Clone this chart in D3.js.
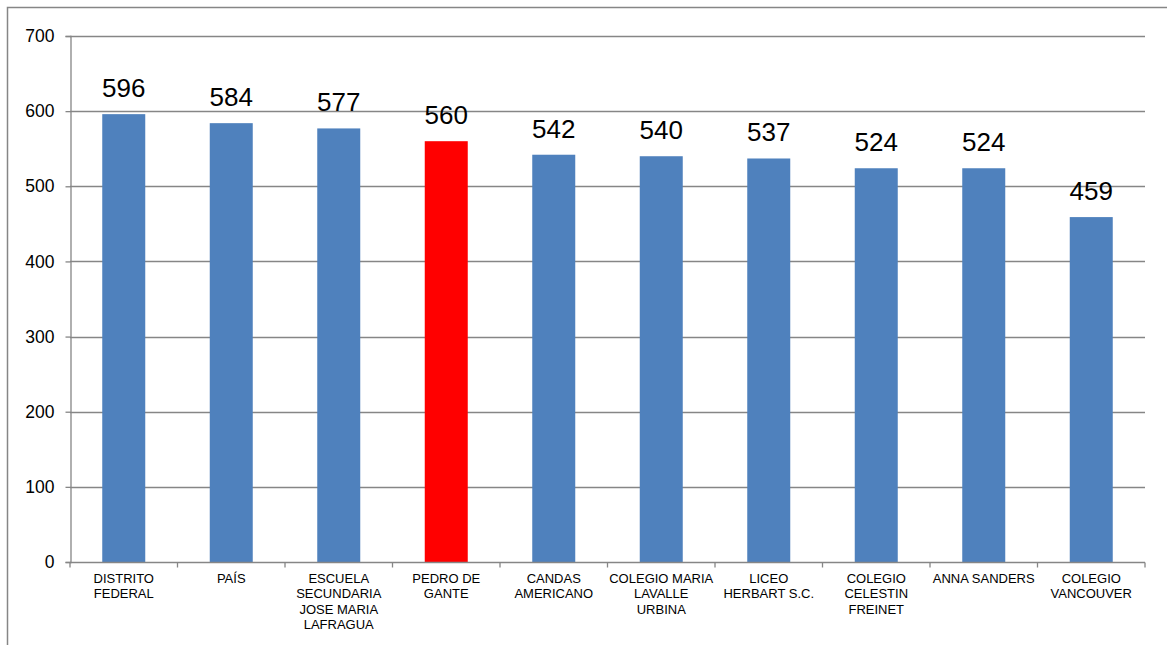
<!DOCTYPE html>
<html>
<head>
<meta charset="utf-8">
<script src="https://cdn.jsdelivr.net/npm/d3@7"></script>
<style>
  html, body { margin: 0; padding: 0; background: #fff; }
  svg { display: block; font-family: "Liberation Sans", Arial, sans-serif; }
</style>
</head>
<body>
<svg id="chart" width="1167" height="645"></svg>
<script>
// Scores per school
const categories = [
  "DISTRITO FEDERAL", "PAÍS", "ESCUELA SECUNDARIA JOSE MARIA LAFRAGUA",
  "PEDRO DE GANTE", "CANDAS AMERICANO", "COLEGIO MARIA LAVALLE URBINA",
  "LICEO HERBART S.C.", "COLEGIO CELESTIN FREINET", "ANNA SANDERS",
  "COLEGIO VANCOUVER"
];
const labelLines = [
  ["DISTRITO", "FEDERAL"],
  ["PAÍS"],
  ["ESCUELA", "SECUNDARIA", "JOSE MARIA", "LAFRAGUA"],
  ["PEDRO DE", "GANTE"],
  ["CANDAS", "AMERICANO"],
  ["COLEGIO MARIA", "LAVALLE", "URBINA"],
  ["LICEO", "HERBART S.C."],
  ["COLEGIO", "CELESTIN", "FREINET"],
  ["ANNA SANDERS"],
  ["COLEGIO", "VANCOUVER"]
];
const values = [596, 584, 577, 560, 542, 540, 537, 524, 524, 459];
const highlighted = ["PEDRO DE GANTE"];
const yTicks = [0, 100, 200, 300, 400, 500, 600, 700];

const svg = d3.select("#chart");

// outer frame
svg.append("rect")
  .attr("x", 7.5).attr("y", 7.5)
  .attr("width", 1170).attr("height", 650)
  .attr("fill", "none").attr("stroke", "#868686").attr("stroke-width", 1.5);

const plotLeft = 70, plotRight = 1145, plotTop = 36, plotBottom = 562;

const x = d3.scaleBand().domain(categories).range([plotLeft, plotRight]).paddingInner(0.6).paddingOuter(0.3);
const xBand = d3.scaleBand().domain(categories).range([plotLeft, plotRight]);
const y = d3.scaleLinear().domain([0, 700]).range([plotBottom, plotTop]);

// horizontal gridlines
svg.append("g").selectAll("line")
  .data(yTicks.filter(t => t > 0))
  .join("line")
  .attr("x1", plotLeft).attr("x2", plotRight)
  .attr("y1", d => Math.round(y(d)) + 0.5).attr("y2", d => Math.round(y(d)) + 0.5)
  .attr("stroke", "#868686").attr("stroke-width", 1.3);

// y axis
const yAxis = svg.append("g")
  .attr("transform", `translate(${plotLeft + 0.5},0)`)
  .call(d3.axisLeft(y).tickValues(yTicks).tickSize(5).tickPadding(11).tickFormat(d3.format("d")));
yAxis.select(".domain").attr("stroke", "#868686").attr("stroke-width", 1.3);
yAxis.selectAll(".tick line").attr("stroke", "#868686").attr("stroke-width", 1.3);
yAxis.selectAll(".tick text")
  .attr("font-size", 17.5).attr("fill", "#000")
  .attr("font-family", "Liberation Sans, Arial, sans-serif");

// bars
svg.append("g").selectAll("rect")
  .data(categories)
  .join("rect")
  .attr("x", d => x(d))
  .attr("width", x.bandwidth())
  .attr("y", (d, i) => y(values[i]))
  .attr("height", (d, i) => y(0) - y(values[i]))
  .attr("fill", d => highlighted.includes(d) ? "#FF0000" : "#4F81BD");

// value labels
svg.append("g").selectAll("text")
  .data(categories)
  .join("text")
  .attr("x", d => x(d) + x.bandwidth() / 2)
  .attr("y", (d, i) => y(values[i]) - 17)
  .attr("text-anchor", "middle")
  .attr("font-size", 26)
  .attr("fill", "#000")
  .text((d, i) => values[i]);

// x axis
const xAxisG = svg.append("g").attr("transform", `translate(0,${plotBottom + 0.5})`);
xAxisG.append("line")
  .attr("x1", plotLeft).attr("x2", plotRight)
  .attr("stroke", "#868686").attr("stroke-width", 1.3);
xAxisG.selectAll("line.tick")
  .data(categories.map(c => xBand(c)).concat([plotRight]))
  .join("line")
  .attr("class", "tick")
  .attr("x1", d => d).attr("x2", d => d)
  .attr("y1", 0).attr("y2", 5)
  .attr("stroke", "#868686").attr("stroke-width", 1.3);

// category labels
const catLabels = svg.append("g").selectAll("text")
  .data(categories)
  .join("text")
  .attr("x", d => xBand(d) + xBand.bandwidth() / 2)
  .attr("y", plotBottom + 21)
  .attr("text-anchor", "middle")
  .attr("font-size", 13)
  .attr("fill", "#000");
catLabels.selectAll("tspan")
  .data((d, i) => labelLines[i])
  .join("tspan")
  .attr("x", function () { return d3.select(this.parentNode).attr("x"); })
  .attr("dy", (d, i) => i === 0 ? 0 : 15.3)
  .text(d => d);
</script>
</body>
</html>
